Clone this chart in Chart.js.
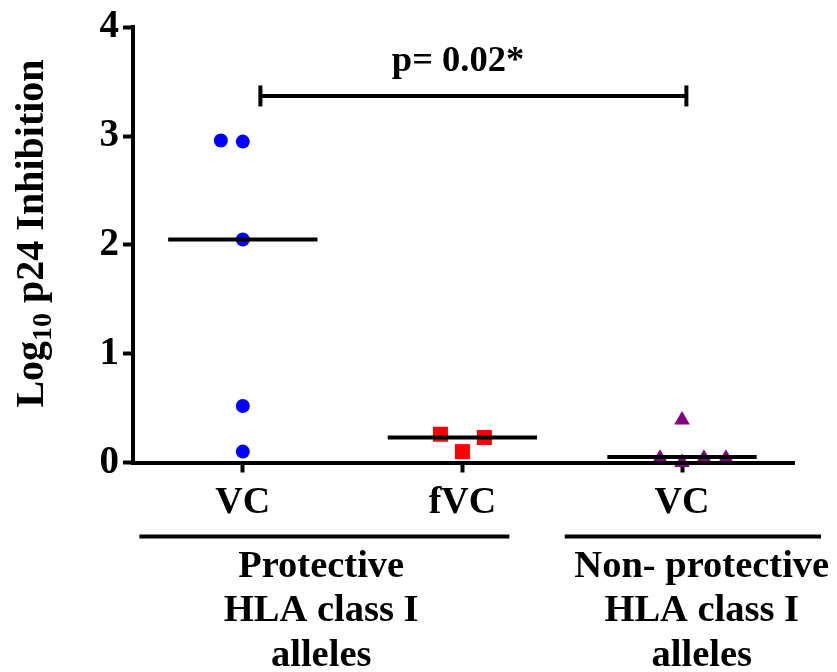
<!DOCTYPE html>
<html>
<head>
<meta charset="utf-8">
<script src="https://cdn.jsdelivr.net/npm/chart.js@4"></script>
<style>
  html, body { margin: 0; padding: 0; background: #fff; }
  #wrap { width: 837px; height: 672px; position: relative; }
</style>
</head>
<body>
<div id="wrap"><canvas id="c"></canvas></div>
<script>
// ---- data ----
const categories = ['VC', 'fVC', 'VC'];
const vcProtective = [2.96, 2.95, 2.05, 0.52, 0.10];
const fvcProtective = [0.26, 0.10, 0.23];
const vcNonProtective = [0.39, 0.04, 0.00, 0.04, 0.04];
const medians = [2.05, 0.23, 0.05];
const yTickValues = [0, 1, 2, 3, 4];
const groupLabels = [
  ['Protective', 'HLA class I', 'alleles'],
  ['Non- protective', 'HLA class I', 'alleles']
];
const pValueLabel = 'p= 0.02*';
const pBarLevel = 3.37;

// ---- layout (positions, not data) ----
const jitterVC = [-0.1, 0, 0, 0, 0];
const jitterFVC = [-0.1, 0, 0.1];
const jitterNP = [0, -0.1, 0, 0.1, 0.2];
const medianHalfWidth = 0.34;
const pBarFrom = 1.08, pBarTo = 3.02;
const pTextPos = { x: 1.98, y: 3.6 };
const groupSpans = [[0.529, 2.214], [2.466, 3.633]];
const groupCenters = [1.357, 3.09];

const FONT = '"Liberation Serif", "Times New Roman", serif';

function pts(vals, cat, jit) {
  return vals.map((v, i) => ({ x: cat + jit[i], y: v }));
}
function medianLine(cat, m) {
  return [{ x: cat - medianHalfWidth, y: m }, { x: cat + medianHalfWidth, y: m }];
}

const annotations = {
  id: 'annotations',
  afterDraw(chart) {
    const ctx = chart.ctx;
    const xs = chart.scales.x, ys = chart.scales.y;
    ctx.save();
    ctx.fillStyle = '#000';
    ctx.strokeStyle = '#000';

    // p-value text
    ctx.font = 'bold 36.5px ' + FONT;
    ctx.textAlign = 'center';
    ctx.textBaseline = 'alphabetic';
    ctx.fillText(pValueLabel, xs.getPixelForValue(pTextPos.x), ys.getPixelForValue(pTextPos.y));

    // group lines and labels
    const lineY = chart.chartArea.bottom + 74;
    ctx.lineWidth = 4;
    groupSpans.forEach((s, gi) => {
      ctx.beginPath();
      ctx.moveTo(xs.getPixelForValue(s[0]), lineY);
      ctx.lineTo(xs.getPixelForValue(s[1]), lineY);
      ctx.stroke();
      ctx.font = 'bold 38.5px ' + FONT;
      ctx.textAlign = 'center';
      groupLabels[gi].forEach((t, li) => {
        ctx.fillText(t, xs.getPixelForValue(groupCenters[gi]), lineY + 40 + li * 44.5);
      });
    });

    // y-axis title with subscript
    const big = 'bold 40px ' + FONT;
    const small = 'bold 28px ' + FONT;
    const p1 = 'Log', p2 = '10', p3 = ' p24 Inhibition';
    ctx.font = big; const w1 = ctx.measureText(p1).width; const w3 = ctx.measureText(p3).width;
    ctx.font = small; const w2 = ctx.measureText(p2).width;
    const W = w1 + w2 + w3;
    const cy = 233.5;
    ctx.translate(43, cy);
    ctx.rotate(-Math.PI / 2);
    ctx.textAlign = 'left';
    let x0 = -W / 2;
    ctx.font = big; ctx.fillText(p1, x0, 0); x0 += w1;
    ctx.font = small; ctx.fillText(p2, x0, 8); x0 += w2;
    ctx.font = big; ctx.fillText(p3, x0, 0);
    ctx.restore();
  }
};

new Chart(document.getElementById('c'), {
  type: 'scatter',
  data: {
    datasets: [
      { data: pts(vcProtective, 1, jitterVC), pointStyle: 'circle', pointRadius: 7, backgroundColor: '#0000FF', borderWidth: 0, order: 2, clip: false },
      { data: pts(fvcProtective, 2, jitterFVC), pointStyle: 'rect', pointRadius: 10.6, backgroundColor: '#FF0000', borderWidth: 0, order: 2, clip: false },
      { data: pts(vcNonProtective, 3, jitterNP), pointStyle: 'triangle', pointRadius: 9, backgroundColor: '#800080', borderWidth: 0, order: 2, clip: false },
      ...medians.map((m, i) => ({ type: 'line', data: medianLine(i + 1, m), borderColor: '#000', borderWidth: 4, pointRadius: 0, showLine: true, order: 1, clip: false })),
      { type: 'line', data: [{ x: pBarFrom, y: pBarLevel }, { x: pBarTo, y: pBarLevel }], borderColor: '#000', borderWidth: 4,
        pointStyle: 'line', pointRotation: 90, pointRadius: 10.5, pointBorderWidth: 4, pointBorderColor: '#000', order: 1, clip: false }
    ]
  },
  options: {
    responsive: true,
    maintainAspectRatio: false,
    animation: false,
    events: [],
    layout: { padding: { top: 23.5, right: 43, left: 0, bottom: 0 } },
    plugins: { legend: { display: false }, tooltip: { enabled: false } },
    scales: {
      x: {
        type: 'linear', min: 0.5, max: 3.51,
        afterBuildTicks: s => { s.ticks = categories.map((c, i) => ({ value: i + 1 })); },
        afterFit: s => { s.height = 672 - 462.5; },
        ticks: { callback: (v, i) => categories[i], font: { family: FONT, size: 38, weight: 'bold' }, color: '#000', padding: 8, maxRotation: 0, autoSkip: false },
        grid: { drawOnChartArea: false, drawTicks: true, tickLength: 10, tickWidth: 4, tickColor: '#000' },
        border: { display: true, color: '#000', width: 4, z: 1 }
      },
      y: {
        min: 0, max: 4,
        afterBuildTicks: s => { s.ticks = yTickValues.map(v => ({ value: v })); },
        afterFit: s => { s.width = 133; },
        ticks: { font: { family: FONT, size: 39, weight: 'bold' }, color: '#000', padding: 4 },
        grid: { drawOnChartArea: false, drawTicks: true, tickLength: 10, tickWidth: 4, tickColor: '#000' },
        border: { display: true, color: '#000', width: 4 }
      }
    }
  },
  plugins: [annotations]
});
</script>
</body>
</html>
